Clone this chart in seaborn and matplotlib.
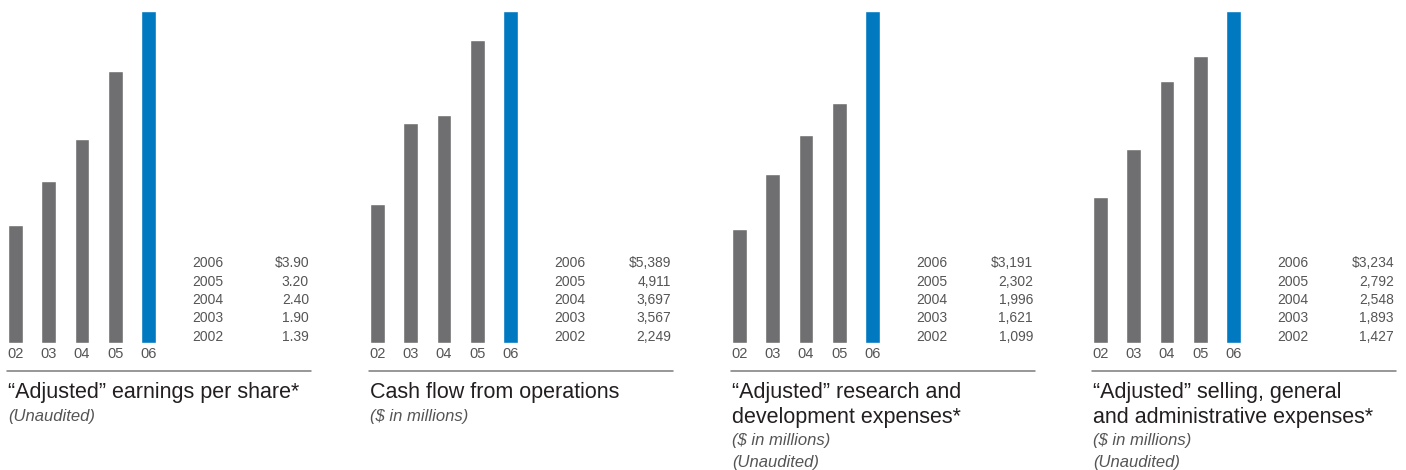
"""
Four small bar panels: 2002-2006 figures with a side table of values.
"""

import matplotlib.pyplot as plt
from matplotlib.lines import Line2D
import seaborn as sns

# ---- data ----
bar_labels = ["02", "03", "04", "05", "06"]
years = [2002, 2003, 2004, 2005, 2006]

eps = [1.39, 1.90, 2.40, 3.20, 3.90]
cash_flow = [2249, 3567, 3697, 4911, 5389]
research = [1099, 1621, 1996, 2302, 3191]
selling = [1427, 1893, 2548, 2792, 3234]

titles = [
    "\u201cAdjusted\u201d earnings per share*",
    "Cash flow from operations",
    "\u201cAdjusted\u201d research and\ndevelopment expenses*",
    "\u201cAdjusted\u201d selling, general\nand administrative expenses*",
]
subtitles = [
    ["(Unaudited)"],
    ["($ in millions)"],
    ["($ in millions)", "(Unaudited)"],
    ["($ in millions)", "(Unaudited)"],
]

GRAY = "#6f6f71"
BLUE = "#0079c1"
TEXT = "#231f20"
SOFT = "#555555"

W, H = 1406, 470


def fx(px):
    return px / W


def fy(py):
    # py measured from the top of the image
    return 1 - py / H


def fmt_values(vals, decimals):
    out = []
    for v in vals:
        out.append(f"{v:.2f}" if decimals else f"{v:,}")
    return out


sns.set_theme(style="white")
plt.rcParams["font.family"] = ["Liberation Sans", "DejaVu Sans"]

fig = plt.figure(figsize=(W / 100, H / 100), dpi=100)

series = [eps, cash_flow, research, selling]
offsets = [8, 370, 732, 1093]
colors = [GRAY, GRAY, GRAY, GRAY, BLUE]

for i, vals in enumerate(series):
    x0 = offsets[i]

    # bar area: bars from x0 to x0+148 px, base at y=343, top at y=11
    ax = fig.add_axes([fx(x0), fy(343), fx(148), (343 - 11) / H])
    sns.barplot(x=bar_labels, y=vals, hue=bar_labels, palette=colors,
                width=0.45, saturation=1, legend=False, ax=ax)
    ax.set_xlim(-0.225, 4.225)
    ax.set_ylim(0, max(vals))
    ax.set_yticks([])
    ax.set_xlabel("")
    ax.set_ylabel("")
    ax.tick_params(axis="x", length=0, pad=3, labelsize=10.5, labelcolor=SOFT)
    sns.despine(ax=ax, left=True, bottom=True)
    ax.patch.set_alpha(0)

    # value table, newest year first
    strs = fmt_values(vals, decimals=(i == 0))
    for r, k in enumerate(range(len(years) - 1, -1, -1)):
        y = 263 + r * 18.5
        val = strs[k]
        if r == 0:
            val = "$" + val
        fig.text(fx(x0 + 184), fy(y), str(years[k]), ha="left",
                 va="center", fontsize=10, color=SOFT)
        fig.text(fx(x0 + 301), fy(y), val, ha="right",
                 va="center", fontsize=10, color=SOFT)

    # separator rule
    fig.add_artist(Line2D([fx(x0 - 1), fx(x0 + 303)], [fy(371), fy(371)],
                          color="#7a7a7a", lw=1.1))

    # title + notes
    fig.text(fx(x0), fy(382), titles[i], ha="left", va="top",
             fontsize=15.5, color=TEXT, linespacing=1.27)
    n_lines = titles[i].count("\n") + 1
    sub_y = 417 + (n_lines - 1) * 23
    for j, s in enumerate(subtitles[i]):
        fig.text(fx(x0), fy(sub_y + j * 23), s, ha="left", va="center",
                 fontsize=12, style="italic", color=SOFT)

plt.savefig("out.png", dpi=100)
plt.close()
